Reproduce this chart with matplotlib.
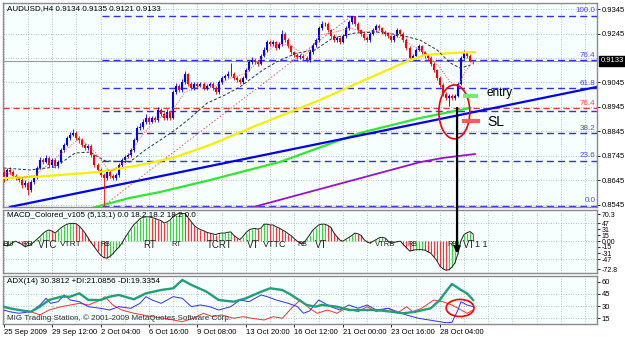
import matplotlib
matplotlib.use("Agg")
import matplotlib.pyplot as plt
from matplotlib.patches import Ellipse, ConnectionPatch
import matplotlib.transforms as mtransforms

plt.rcParams['font.family'] = ['Liberation Sans', 'DejaVu Sans']

# ---------------- data ----------------
first_open = 0.8680
closes = [
    0.8655, 0.8688, 0.8680, 0.8663, 0.8655, 0.8647, 0.8626, 0.8635, 0.8606, 0.8639,
    0.8655, 0.8696, 0.8729, 0.8721, 0.8737, 0.8708, 0.8729, 0.8704, 0.8721, 0.8769,
    0.8790, 0.8818, 0.8831, 0.8839, 0.8818, 0.8810, 0.8790, 0.8778, 0.8786, 0.8749,
    0.8708, 0.8688, 0.8667, 0.8655, 0.8680, 0.8663, 0.8655, 0.8667, 0.8708, 0.8729,
    0.8741, 0.8749, 0.8769, 0.8810, 0.8859, 0.8863, 0.8884, 0.8900, 0.8884, 0.8900,
    0.8892, 0.8933, 0.8916, 0.8900, 0.8925, 0.8900, 0.9006, 0.9031, 0.9014, 0.9047,
    0.9080, 0.9039, 0.9023, 0.9039, 0.9031, 0.9039, 0.9023, 0.9031, 0.9039, 0.9023,
    0.9006, 0.9047, 0.9063, 0.9072, 0.9080, 0.9080, 0.9063, 0.9055, 0.9047, 0.9063,
    0.9096, 0.9129, 0.9137, 0.9129, 0.9120, 0.9153, 0.9178, 0.9210, 0.9202, 0.9210,
    0.9186, 0.9202, 0.9243, 0.9218, 0.9194, 0.9169, 0.9157, 0.9149, 0.9153, 0.9145,
    0.9137, 0.9169, 0.9198, 0.9218, 0.9267, 0.9284, 0.9284, 0.9259, 0.9235, 0.9218,
    0.9227, 0.9210, 0.9235, 0.9267, 0.9292, 0.9316, 0.9284, 0.9259, 0.9243, 0.9227,
    0.9218, 0.9243, 0.9259, 0.9276, 0.9267, 0.9251, 0.9243, 0.9235, 0.9218, 0.9235,
    0.9259, 0.9243, 0.9218, 0.9186, 0.9145, 0.9153, 0.9178, 0.9194, 0.9169, 0.9153,
    0.9145, 0.9120, 0.9096, 0.9063, 0.9035, 0.8998, 0.8982, 0.8990, 0.8982, 0.8990,
    0.9039, 0.9145, 0.9169, 0.9153, 0.9134, 0.9133]
highs = [
    0.8690, 0.8698, 0.8700, 0.8688, 0.8672, 0.8662, 0.8655, 0.8645, 0.8642, 0.8648,
    0.8665, 0.8705, 0.8740, 0.8738, 0.8750, 0.8745, 0.8738, 0.8735, 0.8730, 0.8778,
    0.8800, 0.8828, 0.8842, 0.8855, 0.8848, 0.8825, 0.8818, 0.8798, 0.8795, 0.8792,
    0.8755, 0.8715, 0.8695, 0.8675, 0.8690, 0.8688, 0.8670, 0.8675, 0.8715, 0.8738,
    0.8750, 0.8758, 0.8778, 0.8818, 0.8868, 0.8880, 0.8895, 0.8918, 0.8908, 0.8910,
    0.8908, 0.8945, 0.8940, 0.8925, 0.8935, 0.8930, 0.9015, 0.9042, 0.9040, 0.9060,
    0.9092, 0.9085, 0.9045, 0.9048, 0.9045, 0.9048, 0.9045, 0.9040, 0.9048, 0.9045,
    0.9030, 0.9055, 0.9072, 0.9080, 0.9090, 0.9124, 0.9088, 0.9070, 0.9062, 0.9070,
    0.9105, 0.9138, 0.9148, 0.9145, 0.9135, 0.9162, 0.9188, 0.9220, 0.9218, 0.9220,
    0.9215, 0.9210, 0.9260, 0.9250, 0.9225, 0.9200, 0.9175, 0.9165, 0.9160, 0.9160,
    0.9152, 0.9178, 0.9208, 0.9228, 0.9275, 0.9295, 0.9292, 0.9290, 0.9265, 0.9242,
    0.9235, 0.9232, 0.9242, 0.9275, 0.9300, 0.9318, 0.9318, 0.9290, 0.9265, 0.9250,
    0.9235, 0.9250, 0.9268, 0.9285, 0.9282, 0.9272, 0.9258, 0.9250, 0.9240, 0.9242,
    0.9268, 0.9265, 0.9250, 0.9225, 0.9192, 0.9162, 0.9186, 0.9202, 0.9200, 0.9175,
    0.9160, 0.9152, 0.9128, 0.9102, 0.9070, 0.9042, 0.9005, 0.9000, 0.8998, 0.8998,
    0.9045, 0.9152, 0.9178, 0.9175, 0.9160, 0.9135]
lows = [
    0.8640, 0.8648, 0.8672, 0.8655, 0.8645, 0.8638, 0.8615, 0.8618, 0.8585, 0.8598,
    0.8632, 0.8650, 0.8690, 0.8712, 0.8715, 0.8700, 0.8700, 0.8695, 0.8698, 0.8715,
    0.8762, 0.8785, 0.8810, 0.8825, 0.8810, 0.8800, 0.8782, 0.8770, 0.8770, 0.8740,
    0.8700, 0.8680, 0.8660, 0.8542, 0.8648, 0.8655, 0.8645, 0.8648, 0.8660, 0.8700,
    0.8722, 0.8735, 0.8742, 0.8762, 0.8802, 0.8850, 0.8855, 0.8876, 0.8876, 0.8878,
    0.8885, 0.8885, 0.8908, 0.8890, 0.8892, 0.8890, 0.8895, 0.9000, 0.9005, 0.9008,
    0.9040, 0.9030, 0.9015, 0.9015, 0.9022, 0.9025, 0.9015, 0.9015, 0.9025, 0.9015,
    0.8998, 0.9000, 0.9040, 0.9055, 0.9065, 0.9070, 0.9055, 0.9048, 0.9040, 0.9040,
    0.9058, 0.9090, 0.9122, 0.9120, 0.9112, 0.9115, 0.9148, 0.9170, 0.9195, 0.9195,
    0.9178, 0.9180, 0.9195, 0.9210, 0.9185, 0.9160, 0.9150, 0.9140, 0.9140, 0.9138,
    0.9128, 0.9130, 0.9162, 0.9190, 0.9212, 0.9260, 0.9275, 0.9250, 0.9228, 0.9210,
    0.9210, 0.9202, 0.9205, 0.9228, 0.9260, 0.9285, 0.9275, 0.9250, 0.9235, 0.9220,
    0.9210, 0.9212, 0.9238, 0.9252, 0.9260, 0.9245, 0.9236, 0.9228, 0.9210, 0.9212,
    0.9230, 0.9236, 0.9210, 0.9178, 0.9135, 0.9138, 0.9148, 0.9172, 0.9162, 0.9145,
    0.9138, 0.9112, 0.9088, 0.9055, 0.9025, 0.8990, 0.8972, 0.8948, 0.8975, 0.8975,
    0.8985, 0.9035, 0.9140, 0.9145, 0.9128, 0.9121]

# moving averages / drawn objects (bar index, price)
yellow_x = [0, 9.7, 31.8, 45, 55.9, 68.1, 81.4, 97.9, 104.5, 117.7, 134.2, 139.1, 147.4, 155.6]
yellow_y = [0.8655, 0.8659, 0.8680, 0.8708, 0.8737, 0.8790, 0.8859, 0.8941, 0.8974,
            0.9047, 0.9137, 0.9157, 0.9165, 0.9169]
green_x = [29.2, 41.7, 51.7, 68.2, 91.3, 111.1, 117.7, 137.5, 154]
green_y = [0.8533, 0.8574, 0.8598, 0.8647, 0.8721, 0.8810, 0.8839, 0.8900, 0.8941]
purple_x = [80.7, 137.5, 145, 155.6]
purple_y = [0.8531, 0.8720, 0.8737, 0.8753]
black_x = [0, 8.7, 17, 23.6, 28.5, 33.5, 41.7, 46.7, 51.7, 56.6, 61.6, 67.2, 73.1, 78,
           85.6, 91.3, 96.9, 102.8, 108.7, 116, 123.3, 130.9, 137.5, 143.1, 147.4, 150.7, 154]
black_y = [0.8696, 0.8688, 0.8700, 0.8757, 0.8761, 0.8725, 0.8721, 0.8769, 0.8810, 0.8851,
           0.8900, 0.8961, 0.8994, 0.9027, 0.9096, 0.9137, 0.9165, 0.9178, 0.9227, 0.9247,
           0.9251, 0.9239, 0.9218, 0.9178, 0.9125, 0.9104, 0.9116]
red_x = [0, 5.4, 10.4, 15.3, 20.3, 25.2, 30.2, 35.1, 40.1, 45, 50, 55, 59.9, 64.9, 69.8,
         74.8, 79.7, 84.7, 89.6, 94.6, 99.5, 104.5, 109.4, 114.4, 119.3, 124.3, 129.2,
         134.2, 139.1, 144.1, 147.4, 150, 152.3, 155]
red_y = [0.8680, 0.8655, 0.8667, 0.8717, 0.8769, 0.8818, 0.8761, 0.8680, 0.8721, 0.8818,
         0.8892, 0.8920, 0.9006, 0.9031, 0.9031, 0.9063, 0.9080, 0.9137, 0.9202, 0.9198,
         0.9153, 0.9239, 0.9251, 0.9267, 0.9251, 0.9259, 0.9239, 0.9202, 0.9169, 0.9104,
         0.9047, 0.9031, 0.9088, 0.9129]
trend_x = [2.1, 195.9]
trend_y = [0.8537, 0.9027]
fib_low, fib_high = 0.8542, 0.9318
fib_low_bar, fib_high_bar = 33, 115
fib_ratios = [0.0, 23.6, 38.2, 50.0, 61.8, 76.4, 100.0]
red_fib_level = 0.8940
bid = 0.9133
price_ticks = [0.8545, 0.8645, 0.8745, 0.8845, 0.8945, 0.9045, 0.9245, 0.9345]

# MACD histogram, one value per bar
macd = [
    -10, -12, -10, -3, 0, -4, -8, -14, -12, -9,
    -2, 5, 12, 20, 26, 29, 26, 21, 28, 35,
    40, 44, 46, 46, 45, 39, 30, 20, 7, -5,
    -15, -26, -36, -42, -44, -40, -33, -24, -16, -6,
    8, 20, 32, 43, 50, 58, 62, 63, 63, 61,
    59, 56, 53, 47, 50, 55, 64, 69, 72, 72,
    71, 60, 50, 40, 34, 30, 27, 23, 21, 19,
    17, 20, 21, 21, 23, 24, 15, 9, 4, 12,
    22, 29, 32, 33, 31, 34, 44, 44, 42, 42,
    37, 34, 29, 25, 19, 14, 6, 0, -5, -5,
    5, 16, 28, 35, 42, 44, 44, 41, 36, 22,
    12, 3, 0, 5, 10, 15, 21, 19, 15, 4,
    -2, -5, 0, 4, 9, 10, 8, 0, -5, -3,
    -1, 0, -9, -17, -25, -24, -22, -22, -22, -23,
    -27, -31, -40, -50, -64, -71, -75, -74, -67, -56,
    -32, 2, 17, 22, 25, 18.2]
macd_ticks = [70.3, 47, 31, 15, 0, -15, -31, -47, -72.8]
macd_tick_labels = ['70.3', '47', '31', '15', '0.00', '-15', '-31', '-47', '-72.8']
macd_tags = ['BU', 'RB', 'VTC', 'VTRT', 'RB', 'RT', 'RT', 'TCRT', 'VT', 'VTTC', 'RB',
             'VT', 'VTRB', 'RB', 'RB', 'VT', '1 1']
macd_tag_bars = [-0.3, 6.1, 11.4, 18.6, 31.8, 46, 55.3, 67.2, 80.4, 85.6, 96.9,
                 102.8, 122.6, 133.2, 146.4, 151.7, 155.6]
tag_sizes = [6, 5.5, 7, 6, 5, 7, 5.5, 7, 7, 6.5, 5, 7, 5.5, 5, 5, 7, 6.5]

# ADX(14)
adx_x = [0, 2, 5, 9, 12, 15, 19, 22, 25, 28, 32, 35, 38, 43, 47, 52, 56, 59, 62, 67,
         71, 76, 80, 85, 88, 92, 95, 100, 103, 105, 110, 114, 119, 123, 128, 132, 136,
         141, 144, 146, 148, 151, 153, 155]
adx_v = [29.3, 27.3, 25.2, 23.1, 29.3, 37.5, 41.6, 41.6, 45.7, 37.5, 37.5, 41.6, 43.7,
         38.4, 45.7, 49.8, 51.9, 62.1, 56, 47.7, 37.5, 35.4, 39.6, 47.7, 51.9, 49.8, 43.7,
         31.4, 29.3, 31.5, 29.3, 25.2, 25.2, 25.2, 23.1, 21.2, 23.1, 27.3, 37.5, 47.7,
         57.2, 49.8, 45.7, 37.5]
pdi_x = [0, 2, 5, 9, 12, 14, 15.5, 18, 20, 22, 25, 28, 32, 35, 38, 42, 45, 47, 49, 52,
         54, 56, 59, 62, 65, 68, 71, 75, 78, 81, 85, 87, 90, 94, 97, 99, 101, 104, 108,
         111, 114, 117, 120, 123, 127, 130, 133, 137, 142, 146, 148, 150, 151, 153, 155]
pdi_v = [25.2, 23.1, 21.2, 23.1, 31.4, 39.6, 33.4, 35.4, 43.7, 37.5, 35.4, 29.3, 27.3,
         25.2, 29.3, 27.3, 33.4, 41.6, 37.5, 33.4, 37.5, 41.6, 39.6, 29.3, 31.4, 29.3,
         25.2, 29.3, 37.5, 35.4, 43.7, 41.6, 37.5, 33.4, 29.3, 21.2, 24, 37.5, 29.3, 25.2,
         31.4, 27.3, 31.4, 25.2, 27.3, 23.1, 19.1, 15, 12, 9.6, 10, 25.2, 35.4, 31.4, 29.3]
mdi_x = [0, 2, 5, 9, 12, 15, 19, 22, 25, 28, 32, 33.5, 36, 39, 43, 46, 49, 53, 56, 59,
         62.5, 66, 69, 72, 76, 79, 82, 86, 89, 92, 95.5, 98, 101, 103.5, 107, 110, 113,
         117, 120, 123, 127, 130, 133, 135, 138, 142, 145, 148, 151, 153, 155]
mdi_v = [29.3, 27.3, 25.2, 23.1, 19.1, 25.2, 29.3, 31.4, 33.4, 31.4, 37.5, 41.6, 31.4,
         25.2, 21.2, 19.1, 17, 15, 12.9, 10.8, 15, 21.2, 17, 19.1, 15, 17, 15, 12.9, 17,
         15, 29.3, 37.5, 27.3, 21.2, 25.2, 21.2, 27.3, 23.1, 29.3, 23.1, 27.3, 21.2, 29.3,
         23.1, 27.3, 37.5, 35.4, 31.4, 25.2, 21.2, 25.2]
adx_ticks = [60, 45, 30, 15]

time_labels = ['25 Sep 2009', '29 Sep 12:00', '2 Oct 04:00', '6 Oct 16:00', '9 Oct 08:00',
               '13 Oct 20:00', '16 Oct 12:00', '21 Oct 00:00', '23 Oct 16:00', '28 Oct 04:00']

# ---------------- layout ----------------
W, H = 625, 337
BG = '#F6FEFE'
GRID = '#A8A8A8'
fig = plt.figure(figsize=(W / 100, H / 100), dpi=100, facecolor='white')


def panel(top, bottom):
    ax = fig.add_axes([3 / W, 1 - bottom / H, 594 / W, (bottom - top) / H])
    ax.set_facecolor(BG)
    for s in ax.spines.values():
        s.set_color('#8A8A8A')
        s.set_linewidth(1.0)
    ax.set_xlim(-0.2, 195.9)
    for g in range(0, 196, 8):
        ax.axvline(g, color=GRID, lw=0.6, ls=(0, (1, 2)), zorder=0)
    ax.yaxis.tick_right()
    ax.tick_params(axis='y', length=2, width=0.6, pad=1.5, labelsize=5.5, colors='black')
    ax.tick_params(axis='x', length=0)
    ax.set_xticks([])
    return ax


ax1 = panel(3, 207)
ax2 = panel(210, 273)
ax3 = panel(276, 324)

# ---------------- main price panel ----------------
ax1.set_ylim(0.85368, 0.93695)
ax1.set_yticks(price_ticks)
ax1.set_yticklabels(['%.4f' % p for p in price_ticks])
for p in price_ticks + [0.9145]:
    ax1.axhline(p, color=GRID, lw=0.6, ls=(0, (1, 2)), zorder=0)

ax1.axhline(bid, color='#9A9A9A', lw=0.8, zorder=1)

# fibonacci retracement
for r in fib_ratios:
    lvl = fib_low + r / 100 * (fib_high - fib_low)
    ax1.hlines(lvl, 32.5, 195.9, color='#3030EE', lw=1.0, ls=(0, (5, 3)), zorder=1)
    if r != 50.0:
        ax1.text(195.4, lvl + 0.0006, '%.1f' % r, ha='right', va='bottom',
                 fontsize=5.8, color='#4848FF', zorder=6)
ax1.plot([fib_low_bar, fib_high_bar], [fib_low, fib_high], color='#FF5050', lw=0.7,
         ls=(0, (1.5, 2)), zorder=2)
ax1.axhline(red_fib_level, color='#E03838', lw=0.9, ls=(0, (5, 3)), zorder=1)
ax1.text(195.4, red_fib_level + 0.0006, '76.4', ha='right', va='bottom', fontsize=5.8,
         color='#FF4040', zorder=6)

# long moving averages and trendline
ax1.plot(green_x, green_y, color='#30E830', lw=1.6, zorder=2)
ax1.plot(purple_x, purple_y, color='#9A10D0', lw=1.3, zorder=2)
ax1.plot(trend_x, trend_y, color='#0000F0', lw=1.6, zorder=2)
ax1.plot(yellow_x, yellow_y, color='#F4F000', lw=1.6, zorder=4)

# candles
opens = [first_open] + closes[:-1]
for i, (o, h, l, c) in enumerate(zip(opens, highs, lows, closes)):
    col = '#0000FF' if c >= o else '#FF0000'
    ax1.vlines(i, min(l, o, c), max(h, o, c), color=col, lw=0.6, zorder=3)
    ax1.vlines(i, min(o, c), max(o, c) + 0.00005, color=col, lw=1.5, zorder=3)

ax1.plot(black_x, black_y, color='#303030', lw=0.7, ls=(0, (3, 2)), zorder=4)
ax1.plot(red_x, red_y, color='#FF5050', lw=0.7, ls=(0, (1, 1.5)), zorder=4)

# annotations
ax1.add_patch(Ellipse((148.8, 0.8925), 10.2, 0.0220, fill=False, ec='#FF0000', lw=1.2, zorder=7))
ax1.hlines(0.8990, 151.6, 156.6, color='#70EE70', lw=3, zorder=7)
ax1.text(159.4, 0.9004, 'entry', fontsize=8.5, va='center', ha='left', color='black', zorder=7)
ax1.hlines(0.8888, 151.3, 157.3, color='#FF5A5A', lw=3, zorder=7)
ax1.text(159.8, 0.8884, 'SL', fontsize=10, va='center', ha='left', color='black', zorder=7)

ax1.text(0.006, 0.99, 'AUDUSD,H4 0.9134 0.9135 0.9121 0.9133', transform=ax1.transAxes,
         ha='left', va='top', fontsize=5.8, color='black', zorder=8)
tr = mtransforms.blended_transform_factory(ax1.transAxes, ax1.transData)
ax1.text(1.006, bid, '0.9133', transform=tr, ha='left', va='center', fontsize=5.5,
         color='white', zorder=9, clip_on=False,
         bbox=dict(boxstyle='square,pad=0.2', fc='black', ec='black'))

# ---------------- MACD panel ----------------
ax2.set_ylim(-82.3, 80.7)
ax2.set_yticks(macd_ticks)
ax2.set_yticklabels(macd_tick_labels)
ax2.tick_params(axis='y', labelsize=5)
for lv in (47, 0, -47):
    ax2.axhline(lv, color=GRID, lw=0.6, ls=(0, (1, 2)), zorder=0)
prev = macd[0]
for i, v in enumerate(macd):
    col = '#33DD33' if v >= prev else '#FF3333'
    ax2.vlines(i, 0, v, color=col, lw=0.8, zorder=2)
    prev = v
ax2.plot(range(len(macd)), macd, color='#202020', lw=0.7, zorder=3)
for t, b, s in zip(macd_tags, macd_tag_bars, tag_sizes):
    ax2.text(b, -9, t, fontsize=s, ha='left', va='center', color='#202020', zorder=4)
ax2.text(0.006, 0.97, 'MACD_Colored_v105 (5,13,1) 0.0 18.2 18.2 18.2 0.0',
         transform=ax2.transAxes, ha='left', va='top', fontsize=5.8, color='black', zorder=5)

# ---------------- ADX panel ----------------
ax3.set_ylim(8, 67)
ax3.set_yticks(adx_ticks)
ax3.set_yticklabels([str(t) for t in adx_ticks])
for lv in (45, 30, 15):
    ax3.axhline(lv, color=GRID, lw=0.6, ls=(0, (1, 2)), zorder=0)
ax3.plot(mdi_x, mdi_v, color='#FF3030', lw=0.7, zorder=2)
ax3.plot(pdi_x, pdi_v, color='#3030FF', lw=0.7, zorder=2)
ax3.plot(adx_x, adx_v, color='#20A07A', lw=1.7, zorder=3)
ax3.add_patch(Ellipse((150.7, 27.7), 9.2, 21, fill=False, ec='#FF0000', lw=1.2, zorder=6))
ax3.text(0.006, 0.95, 'ADX(14) 30.3812 +DI:21.0856 -DI:19.3354', transform=ax3.transAxes,
         ha='left', va='top', fontsize=5.8, color='black', zorder=5)
ax3.text(0.006, 0.04, 'MIG Trading Station, \u00a9 2001-2009 MetaQuotes Software Corp.',
         transform=ax3.transAxes, ha='left', va='bottom', fontsize=5.8, color='#303030', zorder=5)

ax3.set_xticks(range(0, 16 * len(time_labels), 16))
ax3.set_xticklabels(time_labels)
ax3.tick_params(axis='x', length=2, width=0.6, pad=1.5, labelsize=5.5)
plt.setp(ax3.get_xticklabels(), ha='left')

# big arrow from the price panel down into the MACD panel
arrow = ConnectionPatch(xyA=(149.7, 0.8941), coordsA=ax1.transData,
                        xyB=(149.7, -32), coordsB=ax2.transData,
                        arrowstyle='-|>', mutation_scale=9, lw=1.6, color='black', zorder=10)
fig.add_artist(arrow)

fig.savefig('out.png', dpi=100, facecolor='white')
